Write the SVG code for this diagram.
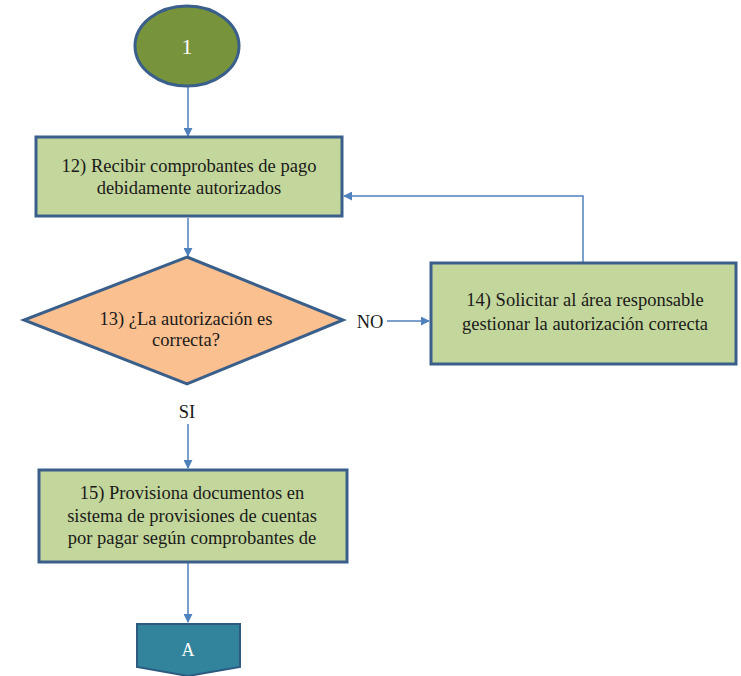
<svg xmlns="http://www.w3.org/2000/svg" width="741" height="676" viewBox="0 0 741 676">
  <style>
    .box { fill: #c3d69b; stroke: #3a5f8b; stroke-width: 3; }
    .lbl { font-family: 'Liberation Serif', 'DejaVu Serif', serif; font-size: 18.5px; fill: #1a1a1a; text-anchor: middle; }
    .wlbl { font-family: 'Liberation Serif', 'DejaVu Serif', serif; fill: #ffffff; text-anchor: middle; }
    .conn { fill: none; stroke: #4f81bd; stroke-width: 1.5; }
  </style>
  <defs>
    <marker id="arrow" viewBox="0 0 10 10" refX="9" refY="5" markerWidth="9" markerHeight="9" markerUnits="userSpaceOnUse" orient="auto">
      <path d="M0,0 L10,5 L0,10 z" fill="#4f81bd"/>
    </marker>
  </defs>

  <rect width="741" height="676" fill="#ffffff"/>

  <!-- connectors -->
  <g id="connectors">
    <path class="conn" d="M188,87 L188,136" marker-end="url(#arrow)"/>
    <path class="conn" d="M188,218 L188,256" marker-end="url(#arrow)"/>
    <path class="conn" d="M387,321 L429,321" marker-end="url(#arrow)"/>
    <path class="conn" d="M583,262 L583,196 L344,196" marker-end="url(#arrow)"/>
    <path class="conn" d="M188,424 L188,468" marker-end="url(#arrow)"/>
    <path class="conn" d="M188,563 L188,622" marker-end="url(#arrow)"/>
    <text class="lbl" x="370" y="328">NO</text>
    <text class="lbl" x="187" y="418">SI</text>
  </g>

  <!-- start connector -->
  <g id="start">
    <ellipse cx="187" cy="46" rx="52" ry="40" fill="#77933c" stroke="#3a5f8b" stroke-width="3"/>
    <text class="wlbl" x="187" y="54" font-size="22">1</text>
  </g>

  <!-- step 12 -->
  <g id="step12">
    <rect class="box" x="36" y="137" width="306" height="79"/>
    <text class="lbl" x="189" y="172">12) Recibir comprobantes de pago</text>
    <text class="lbl" x="189" y="194">debidamente autorizados</text>
  </g>

  <!-- decision 13 -->
  <g id="decision13">
    <polygon points="187,257 343,320 187,384 24,320" fill="#fac090" stroke="#3a5f8b" stroke-width="3"/>
    <text class="lbl" x="186" y="325">13) ¿La autorización es</text>
    <text class="lbl" x="186" y="346">correcta?</text>
  </g>

  <!-- step 14 -->
  <g id="step14">
    <rect class="box" x="431" y="263" width="305" height="101"/>
    <text class="lbl" x="585" y="306">14) Solicitar al área responsable</text>
    <text class="lbl" x="585" y="330">gestionar la autorización correcta</text>
  </g>

  <!-- step 15 -->
  <g id="step15">
    <rect class="box" x="39" y="470" width="308" height="92"/>
    <text class="lbl" x="192" y="499">15) Provisiona documentos en</text>
    <text class="lbl" x="192" y="521.5">sistema de provisiones de cuentas</text>
    <text class="lbl" x="192" y="544">por pagar según comprobantes de</text>
  </g>

  <!-- off-page connector A -->
  <g id="offpageA">
    <path d="M137,624 L240,624 L240,667 L188,676 L137,667 Z" fill="#31849b" stroke="#2c5a80" stroke-width="2"/>
    <text class="wlbl" x="188" y="656" font-size="18">A</text>
  </g>
</svg>
